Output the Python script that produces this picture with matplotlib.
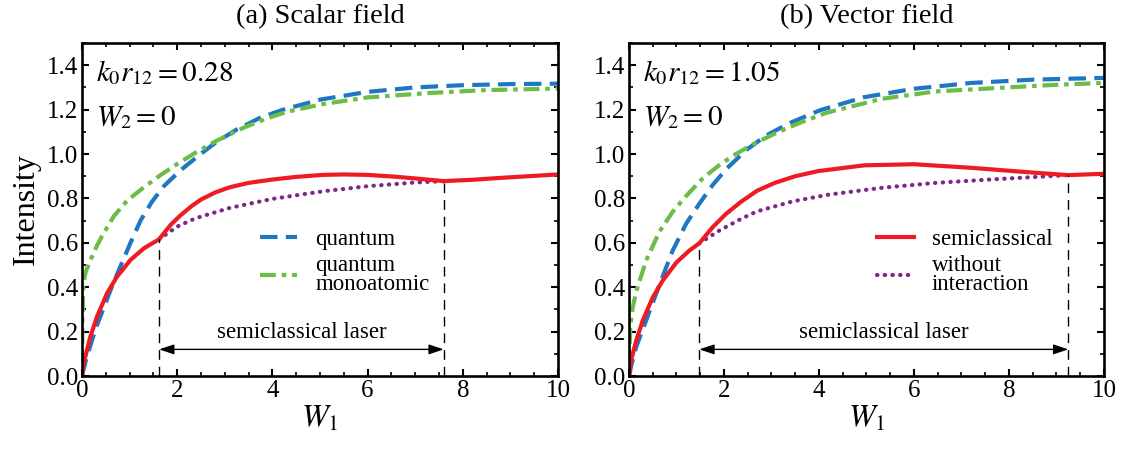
import matplotlib
matplotlib.use('Agg')
import matplotlib.pyplot as plt
from matplotlib.ticker import MultipleLocator

plt.rcParams['font.family'] = ['Liberation Serif', 'DejaVu Serif']
plt.rcParams['mathtext.fontset'] = 'stix'

# ---- panel (a): scalar field, k0 r12 = 0.28 ----
xa_quant = [0, 0.1, 0.3, 0.6, 0.8, 1.02, 1.23, 1.47, 1.72, 2.06, 2.48, 2.83, 3.25, 3.74, 4.23, 5.0, 6.0, 7.0, 8.0, 9.0, 10]
ya_quant = [0, 0.086, 0.22, 0.387, 0.49, 0.6, 0.70, 0.785, 0.855, 0.925, 0.998, 1.055, 1.11, 1.163, 1.20, 1.245, 1.28, 1.30, 1.31, 1.315, 1.317]
xa_mono = [0, 0.01, 0.03, 0.08, 0.175, 0.3, 0.42, 0.67, 0.95, 1.3, 1.65, 2.0, 2.34, 2.83, 3.39, 3.88, 4.3, 5.06, 6.0, 7.3, 8.5, 10]
ya_mono = [0, 0.25, 0.42, 0.47, 0.52, 0.58, 0.63, 0.72, 0.79, 0.85, 0.905, 0.955, 1.0, 1.06, 1.118, 1.16, 1.19, 1.225, 1.255, 1.275, 1.288, 1.295]
xa_semi = [0, 0.035, 0.175, 0.315, 0.525, 0.735, 1.02, 1.3, 1.62, 1.86, 2.05, 2.3, 2.5, 2.8, 3.1, 3.5, 4.0, 4.5, 5.06, 5.5, 6.0, 6.57, 7.0, 7.6, 8.2, 8.83, 10]
ya_semi = [0, 0.056, 0.176, 0.267, 0.372, 0.447, 0.523, 0.575, 0.616, 0.68, 0.72, 0.765, 0.795, 0.827, 0.85, 0.87, 0.885, 0.897, 0.906, 0.908, 0.906, 0.898, 0.89, 0.878, 0.884, 0.893, 0.908]
xa_free = [1.62, 2.0, 2.38, 3.1, 4.0, 5.06, 6.0, 6.95, 7.6]
ya_free = [0.616, 0.673, 0.71, 0.757, 0.798, 0.832, 0.855, 0.871, 0.878]
range_a = [1.62, 7.6]

# ---- panel (b): vector field, k0 r12 = 1.05 ----
xb_quant = [0, 0.05, 0.15, 0.43, 0.64, 0.92, 1.2, 1.48, 1.76, 2.06, 2.48, 2.9, 3.39, 4.02, 4.95, 6.0, 7.2, 8.5, 10]
yb_quant = [0, 0.05, 0.13, 0.29, 0.41, 0.565, 0.685, 0.776, 0.86, 0.935, 1.02, 1.085, 1.14, 1.197, 1.256, 1.294, 1.32, 1.335, 1.343]
xb_mono = [0, 0.01, 0.03, 0.08, 0.15, 0.36, 0.64, 0.92, 1.2, 1.55, 1.9, 2.25, 2.62, 3.11, 3.6, 4.16, 5.33, 6.46, 7.97, 9.0, 10]
yb_mono = [0, 0.12, 0.23, 0.31, 0.38, 0.52, 0.65, 0.74, 0.81, 0.89, 0.95, 1.0, 1.045, 1.096, 1.141, 1.186, 1.249, 1.282, 1.30, 1.312, 1.32]
xb_semi = [0, 0.05, 0.15, 0.29, 0.5, 0.71, 1.0, 1.27, 1.48, 1.76, 2.04, 2.36, 2.7, 3.07, 3.5, 3.98, 4.95, 6.0, 7.2, 8.34, 9.25, 10]
yb_semi = [0, 0.075, 0.158, 0.25, 0.354, 0.43, 0.512, 0.565, 0.598, 0.67, 0.73, 0.785, 0.835, 0.87, 0.90, 0.923, 0.949, 0.954, 0.938, 0.919, 0.905, 0.911]
xb_free = [1.48, 1.9, 2.36, 2.7, 3.45, 4.2, 5.33, 6.46, 7.59, 8.5, 9.25]
yb_free = [0.598, 0.655, 0.708, 0.742, 0.787, 0.817, 0.848, 0.87, 0.885, 0.896, 0.905]
range_b = [1.48, 9.25]

titles = ['(a) Scalar field', '(b) Vector field']
params = [r'$k_0r_{12} = 0.28$', r'$k_0r_{12} = 1.05$']

c_blue = '#1f77c4'
c_green = '#6cbd45'
c_red = '#ed1c24'
c_purple = '#7b2a85'

fig = plt.figure(figsize=(11.21, 4.5), dpi=100)
ax1 = fig.add_axes([0.0731, 0.1644, 0.4247, 0.74])
ax2 = fig.add_axes([0.5611, 0.1644, 0.4237, 0.74])

panels = [
    (ax1, xa_quant, ya_quant, xa_mono, ya_mono, xa_semi, ya_semi, xa_free, ya_free, range_a),
    (ax2, xb_quant, yb_quant, xb_mono, yb_mono, xb_semi, yb_semi, xb_free, yb_free, range_b),
]

for i, (ax, xq, yq, xm, ym, xs, ys, xf, yf, rng) in enumerate(panels):
    lq, = ax.plot(xq, yq, color=c_blue, lw=3, ls=(0, (4.2, 2.0)))
    lm, = ax.plot(xm, ym, color=c_green, lw=3, ls=(0, (3.8, 1.4, 1.1, 1.4)))
    lf, = ax.plot(xf, yf, color=c_purple, lw=3, ls=(0, (0.1, 1.75)), dash_capstyle='round')
    ls_, = ax.plot(xs, ys, color=c_red, lw=3)

    # semiclassical laser window
    for xv in rng:
        yv = ys[xs.index(xv)] if xv in xs else 0
        ax.plot([xv, xv], [0, yv], color='black', lw=1, ls=(0, (7, 5)))
    ax.annotate('', xy=(rng[1], 0.12), xytext=(rng[0], 0.12),
                arrowprops=dict(arrowstyle='<|-|>,head_length=0.9,head_width=0.3', color='black', lw=1,
                                shrinkA=0, shrinkB=0))
    ax.text((rng[0] + rng[1]) / 2, 0.15, 'semiclassical laser', ha='center', va='bottom', fontsize=16.5)

    ax.text(0.3, 1.33, params[i], fontsize=21)
    ax.text(0.3, 1.13, r'$W_2 = 0$', fontsize=21)

    legkw = dict(loc='upper left', fontsize=16.5, frameon=False, handlelength=1.6, handletextpad=0.8,
                 labelspacing=0.25, borderpad=0, borderaxespad=0)
    if i == 0:
        leg = ax.legend([lq, lm], ['quantum', 'quantum\nmonoatomic'], bbox_to_anchor=(0.375, 0.443), **legkw)
    else:
        leg = ax.legend([ls_, lf], ['semiclassical', 'without\ninteraction'], bbox_to_anchor=(0.522, 0.443), **legkw)
    for t in leg.get_texts():
        t.set_linespacing(0.85)

    ax.set_xlim(0, 10)
    ax.set_ylim(0, 1.5)
    ax.xaxis.set_major_locator(MultipleLocator(2))
    ax.xaxis.set_minor_locator(MultipleLocator(0.5))
    ax.yaxis.set_minor_locator(MultipleLocator(0.1))
    ax.set_yticks([0, 0.2, 0.4, 0.6, 0.8, 1.0, 1.2, 1.4])
    ax.set_yticklabels(['0.0', '0.2', '0.4', '0.6', '0.8', '1.0', '1.2', '1.4'])
    ax.tick_params(which='both', direction='in', top=True, right=True, labelsize=18, pad=3)
    ax.tick_params(which='major', length=5, width=1.5)
    ax.tick_params(which='minor', length=3, width=1.2)
    for sp in ax.spines.values():
        sp.set_linewidth(1.9)
    ax.set_title(titles[i], fontsize=20.5, pad=14)
    ax.set_xlabel(r'$W_1$', fontsize=23, labelpad=2)

ax1.set_ylabel('Intensity', fontsize=23, labelpad=4)

fig.savefig('out.png', dpi=100)
